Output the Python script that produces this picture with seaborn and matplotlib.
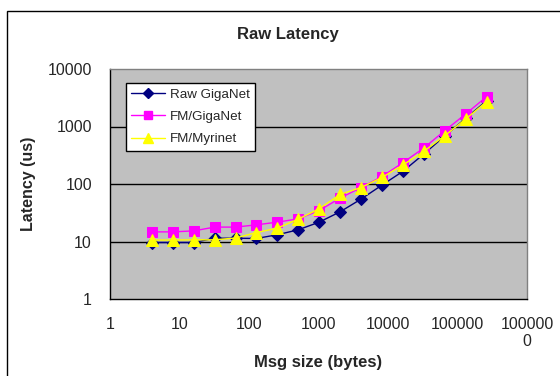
import matplotlib
matplotlib.use("Agg")
import matplotlib.pyplot as plt
from matplotlib.patches import Rectangle
from matplotlib.lines import Line2D
import seaborn as sns
import pandas as pd

msg_sizes = [4, 8, 16, 32, 64, 128, 256, 512, 1024, 2048, 4096, 8192,
             16384, 32768, 65536, 131072, 262144]
raw_giganet = [9.6, 9.6, 9.6, 11.4, 11.4, 11.3, 13.1, 16.0, 21.7, 32.9, 54.6,
               95.7, 166, 332, 684, 1383, 2810]
fm_giganet = [14.7, 14.7, 15.3, 17.8, 17.8, 19.5, 21.7, 24.8, 34.6, 56.9, 86.9,
              135, 235, 423, 845, 1650, 3300]
fm_myrinet = [10.6, 10.6, 10.7, 10.7, 11.5, 14.3, 17.1, 24.5, 37.2, 65.9, 86.9,
              130, 214, 369, 692, 1349, 2710]
series_names = ["Raw GigaNet", "FM/GigaNet", "FM/Myrinet"]
x_ticks = [1, 10, 100, 1000, 10000, 100000, 1000000]
x_ticklabels = ["1", "10", "100", "1000", "10000", "100000", "100000\n0"]
y_ticks = [1, 10, 100, 1000, 10000]
y_ticklabels = ["1", "10", "100", "1000", "10000"]

sns.set_style("white")
plt.rcParams['font.family'] = ['Liberation Sans', 'DejaVu Sans']

df = pd.DataFrame({
    "size": msg_sizes * 3,
    "latency": raw_giganet + fm_giganet + fm_myrinet,
    "series": [series_names[0]] * len(msg_sizes) + [series_names[1]] * len(msg_sizes)
              + [series_names[2]] * len(msg_sizes),
})

colors = {"Raw GigaNet": "#000080", "FM/GigaNet": "#FF00FF", "FM/Myrinet": "#FFFF00"}
markers = {"Raw GigaNet": "D", "FM/GigaNet": "s", "FM/Myrinet": "^"}
msizes = {"Raw GigaNet": 6, "FM/GigaNet": 7.5, "FM/Myrinet": 8.5}

fig = plt.figure(figsize=(5.6, 3.76), dpi=100)
ax = fig.add_axes([110 / 560, 1 - 299 / 376, 417 / 560, 230 / 376])
ax.set_facecolor("#C0C0C0")

for name in series_names:
    sub = df[df["series"] == name]
    sns.lineplot(data=sub, x="size", y="latency", ax=ax, color=colors[name],
                 marker=markers[name], markersize=msizes[name],
                 markeredgecolor=colors[name], linewidth=1.0, legend=False)

ax.set_xscale("log")
ax.set_yscale("log")
ax.set_xlim(1, 1000000)
ax.set_ylim(1, 10000)
ax.set_xticks(x_ticks)
ax.set_xticklabels(x_ticklabels)
ax.set_yticks(y_ticks)
ax.set_yticklabels(y_ticklabels)
ax.minorticks_off()
ax.tick_params(axis="both", direction="out", length=5, width=1, color="black",
               labelsize=11.5)
ax.tick_params(axis="x", pad=8)
ax.tick_params(axis="y", pad=8)
for yv in y_ticks[1:-1]:
    ax.axhline(yv, color="black", linewidth=1.0, zorder=0.5)

for s in ["top", "right"]:
    ax.spines[s].set_color("#808080")
    ax.spines[s].set_linewidth(1.0)
for s in ["left", "bottom"]:
    ax.spines[s].set_color("black")
    ax.spines[s].set_linewidth(1.0)

ax.set_xlabel("Msg size (bytes)", fontsize=12, fontweight="bold", va="center")
ax.xaxis.set_label_coords(0.5, (299 - 362) / 230)
ax.set_ylabel("Latency (us)", fontsize=11.5, fontweight="bold", va="center")
ax.yaxis.set_label_coords((28 - 110) / 417, 0.5)
fig.text(288 / 560, 1 - 34 / 376, "Raw Latency", ha="center", va="center",
         fontsize=12, fontweight="bold")

handles = [Line2D([0], [0], color=colors[n], marker=markers[n],
                  markersize=msizes[n] * 0.85, markeredgecolor=colors[n], linewidth=1.0)
           for n in series_names]
leg = ax.legend(handles, series_names, loc="upper left",
                bbox_to_anchor=(0.038, 0.939), borderaxespad=0, fontsize=9.6,
                frameon=True, fancybox=False, edgecolor="black", framealpha=1,
                handlelength=2.55, labelspacing=0.75, borderpad=0.4, handletextpad=0.35)
leg.get_frame().set_linewidth(1.0)

fig.patches.append(Rectangle((7 / 560, -0.05), 1.1, 0.05 + (1 - 11 / 376),
                             transform=fig.transFigure, fill=False,
                             edgecolor="black", linewidth=1.0))

fig.savefig("out.png", dpi=100)
